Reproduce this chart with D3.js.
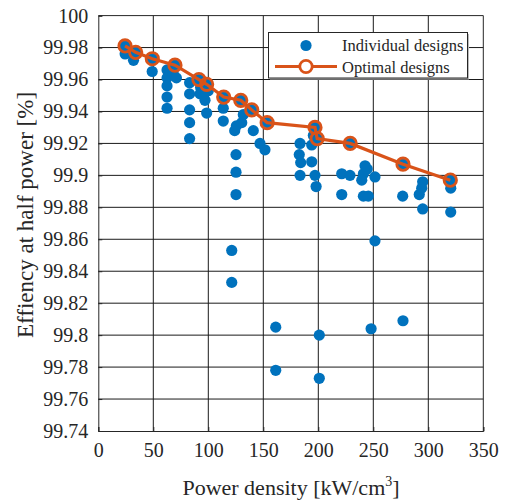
<!DOCTYPE html>
<html>
<head>
<meta charset="utf-8">
<script src="https://cdn.jsdelivr.net/npm/d3@7"></script>
<style>
  html, body { margin: 0; padding: 0; background: #fff; }
  svg { display: block; }
  text { font-family: "Liberation Serif", "Times New Roman", serif; fill: #262626; }
</style>
</head>
<body>
<svg id="chart" width="507" height="502"></svg>
<script>
// Individual designs: power density [kW/cm^3] and efficiency at half power [%]
const individualX = [
  24.3, 34, 49.1, 69.7, 91.5, 98.5, 114, 129.5, 139.5, 153.5, 197, 199, 229, 277, 320,
  24.4, 32, 49,
  62.5, 62.5, 62.5, 62.5, 62.5, 68, 71,
  83, 83, 83, 83, 83, 93, 92.5, 97, 98.5, 100,
  113.6, 113.6, 121.3, 121.3, 125.5, 124, 125.2, 125.2, 125.2, 130.4, 131.8,
  140.9, 147, 151.5, 161.3, 161.3,
  183.4, 182.7, 184, 183.4, 195.5, 194, 194, 197, 198, 200.9, 200.9,
  221.3, 228.8, 221.3, 241, 239.5, 244.5, 242.5, 251.5, 241, 245.5, 251.5, 248,
  276.7, 277, 294.9, 294, 291.8, 294.9, 320.4, 320.4
];
const individualY = [
  99.981, 99.977, 99.973, 99.969, 99.960, 99.957, 99.949, 99.947, 99.941, 99.933, 99.930, 99.923, 99.920, 99.907, 99.897,
  99.976, 99.972, 99.965,
  99.966, 99.961, 99.956, 99.949, 99.942, 99.964, 99.961,
  99.958, 99.951, 99.941, 99.933, 99.923, 99.955, 99.951, 99.947, 99.939, 99.953,
  99.942, 99.934, 99.853, 99.833, 99.931, 99.928, 99.913, 99.902, 99.888, 99.933, 99.938,
  99.928, 99.920, 99.916, 99.805, 99.778,
  99.920, 99.913, 99.908, 99.900, 99.925, 99.919, 99.9085, 99.900, 99.893, 99.800, 99.773,
  99.901, 99.900, 99.888, 99.901, 99.897, 99.904, 99.906, 99.899, 99.887, 99.887, 99.859, 99.804,
  99.887, 99.809, 99.896, 99.892, 99.888, 99.879, 99.892, 99.877
];

// Optimal (Pareto) designs
const optimalX = [24.3, 34, 49.1, 69.7, 91.5, 98.5, 114, 129.5, 139.5, 153.5, 197, 199, 229, 277, 320];
const optimalY = [99.981, 99.977, 99.973, 99.969, 99.960, 99.957, 99.949, 99.947, 99.941, 99.933, 99.930, 99.923, 99.920, 99.907, 99.897];

// Axis ticks
const xTicks = [0, 50, 100, 150, 200, 250, 300, 350];
const yTicks = [99.74, 99.76, 99.78, 99.8, 99.82, 99.84, 99.86, 99.88, 99.9, 99.92, 99.94, 99.96, 99.98, 100];

const seriesNames = ["Individual designs", "Optimal designs"];

const BLUE = "#0072BD";
const ORANGE = "#D95319";
const INK = "#262626";
const SERIF = '"Liberation Serif", "Times New Roman", serif';

const svg = d3.select("#chart");
const plotL = 98.3, plotR = 483.3, plotT = 15.6, plotB = 431;

const x = d3.scaleLinear().domain([0, 350]).range([plotL, plotR]);
const y = d3.scaleLinear().domain([99.74, 100]).range([plotB, plotT]);

// grid
const grid = svg.append("g").attr("stroke", "#1a1a1a").attr("stroke-width", 1);
grid.selectAll("line.gx").data(xTicks.slice(1, -1)).join("line")
  .attr("x1", d => x(d)).attr("x2", d => x(d)).attr("y1", plotT).attr("y2", plotB);
grid.selectAll("line.gy").data(yTicks.slice(1, -1)).join("line")
  .attr("x1", plotL).attr("x2", plotR).attr("y1", d => y(d)).attr("y2", d => y(d));

// axes
const fmtY = d => String(+d.toFixed(2));
const xAxis = d3.axisBottom(x).tickValues(xTicks).tickSize(-4).tickPadding(12).tickFormat(d3.format("d"));
const yAxis = d3.axisLeft(y).tickValues(yTicks).tickSize(-4).tickPadding(10).tickFormat(fmtY);

const gx = svg.append("g").attr("transform", `translate(0,${plotB})`).call(xAxis);
const gy = svg.append("g").attr("transform", `translate(${plotL},0)`).call(yAxis);
[gx, gy].forEach(g => {
  g.attr("font-family", SERIF).attr("font-size", 20);
  g.select(".domain").attr("stroke", INK).attr("stroke-width", 1);
  g.selectAll(".tick line").attr("stroke", INK);
  g.selectAll(".tick text").attr("font-size", 20).attr("fill", INK)
    .attr("font-family", SERIF).style("font-family", SERIF);
});
gx.selectAll(".tick text").attr("dy", "0.71em");

// box top and right
svg.append("line").attr("x1", plotL).attr("x2", plotR).attr("y1", plotT).attr("y2", plotT).attr("stroke", INK);
svg.append("line").attr("x1", plotR).attr("x2", plotR).attr("y1", plotT).attr("y2", plotB).attr("stroke", INK);

// individual designs
const indiv = individualX.map((v, i) => ({ x: v, y: individualY[i] }));
svg.append("g").selectAll("circle").data(indiv).join("circle")
  .attr("cx", d => x(d.x)).attr("cy", d => y(d.y)).attr("r", 5.6).attr("fill", BLUE);

// optimal designs
const opt = optimalX.map((v, i) => ({ x: v, y: optimalY[i] }));
svg.append("path").datum(opt)
  .attr("d", d3.line().x(d => x(d.x)).y(d => y(d.y)))
  .attr("fill", "none").attr("stroke", ORANGE).attr("stroke-width", 3.2);
svg.append("g").selectAll("circle").data(opt).join("circle")
  .attr("cx", d => x(d.x)).attr("cy", d => y(d.y)).attr("r", 6.2)
  .attr("fill", "none").attr("stroke", ORANGE).attr("stroke-width", 2.8);

// axis labels
const xl = svg.append("text").attr("x", 291).attr("y", 495).attr("text-anchor", "middle")
  .attr("font-size", 22).attr("fill", INK);
xl.append("tspan").text("Power density [kW/cm");
xl.append("tspan").attr("font-size", 14).attr("dy", -9).text("3");
xl.append("tspan").attr("dy", 9).text("]");

svg.append("text").attr("transform", "translate(33,215) rotate(-90)")
  .attr("text-anchor", "middle").attr("font-size", 23).attr("fill", INK)
  .text("Effiency at half power [%]");

// legend
const lg = svg.append("g");
lg.append("rect").attr("x", 270).attr("y", 34).attr("width", 199).attr("height", 45.5).attr("fill", "#bbb");
lg.append("rect").attr("x", 268.5).attr("y", 32.5).attr("width", 199).attr("height", 45.5)
  .attr("fill", "#fff").attr("stroke", INK).attr("stroke-width", 1);
lg.append("circle").attr("cx", 306).attr("cy", 45.5).attr("r", 5.6).attr("fill", BLUE);
lg.append("line").attr("x1", 275).attr("x2", 337).attr("y1", 66.5).attr("y2", 66.5)
  .attr("stroke", ORANGE).attr("stroke-width", 3.2);
lg.append("circle").attr("cx", 306).attr("cy", 66.5).attr("r", 6.2)
  .attr("fill", "#fff").attr("stroke", ORANGE).attr("stroke-width", 2.8);
lg.selectAll("text").data(seriesNames).join("text")
  .attr("x", 342).attr("y", (d, i) => 51 + i * 21.5).attr("font-size", 16.5).attr("fill", INK)
  .text(d => d);
</script>
</body>
</html>
